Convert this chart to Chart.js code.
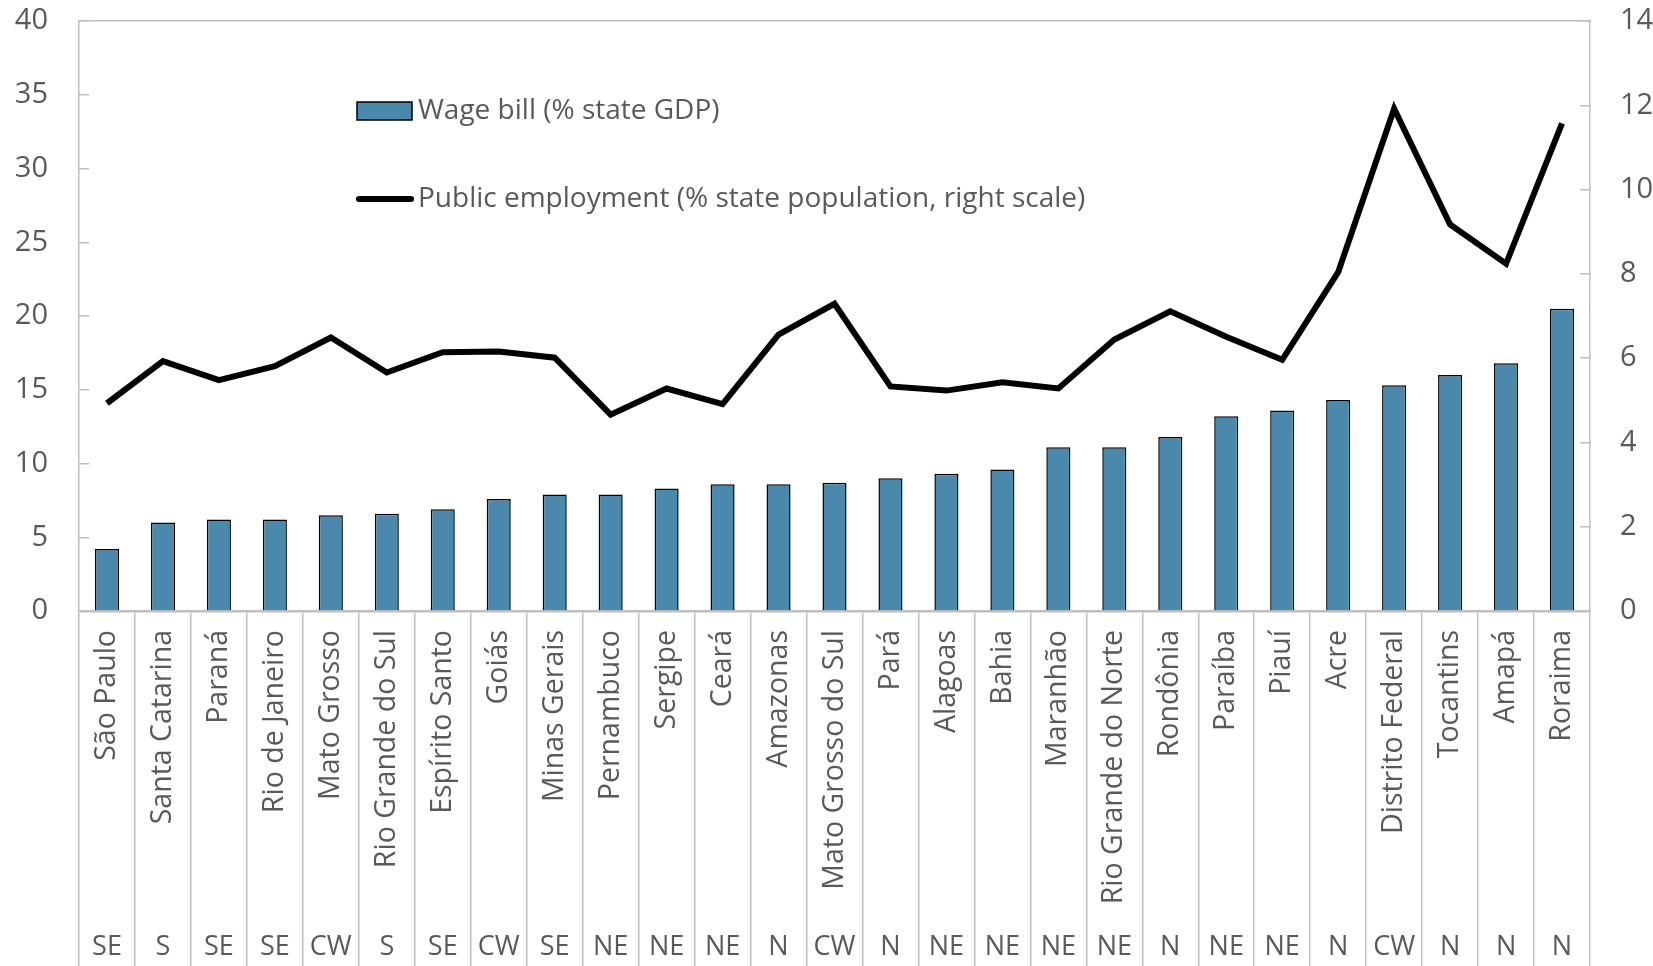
<!DOCTYPE html>
<html>
<head>
<meta charset="utf-8">
<script src="https://cdn.jsdelivr.net/npm/chart.js@4/dist/chart.umd.min.js"></script>
<style>
  html, body { margin: 0; padding: 0; background: #fff; }
  #wrap { width: 1653px; height: 966px; position: relative; }
</style>
</head>
<body>
<div id="wrap"><canvas id="chart"></canvas></div>
<script>
const states = ['São Paulo', 'Santa Catarina', 'Paraná', 'Rio de Janeiro', 'Mato Grosso',
  'Rio Grande do Sul', 'Espírito Santo', 'Goiás', 'Minas Gerais', 'Pernambuco', 'Sergipe',
  'Ceará', 'Amazonas', 'Mato Grosso do Sul', 'Pará', 'Alagoas', 'Bahia', 'Maranhão',
  'Rio Grande do Norte', 'Rondônia', 'Paraíba', 'Piauí', 'Acre', 'Distrito Federal',
  'Tocantins', 'Amapá', 'Roraima'];
const regions = ['SE', 'S', 'SE', 'SE', 'CW', 'S', 'SE', 'CW', 'SE', 'NE', 'NE', 'NE', 'N', 'CW',
  'N', 'NE', 'NE', 'NE', 'NE', 'N', 'NE', 'NE', 'N', 'CW', 'N', 'N', 'N'];
const wageBill = [4.2, 6.0, 6.2, 6.2, 6.5, 6.6, 6.9, 7.6, 7.9, 7.9, 8.3, 8.6, 8.6, 8.7, 9.0,
  9.3, 9.6, 11.1, 11.1, 11.8, 13.2, 13.6, 14.3, 15.3, 16.0, 16.8, 20.5];
const publicEmployment = [4.93, 5.93, 5.48, 5.81, 6.49, 5.66, 6.14, 6.16, 6.01, 4.66, 5.28,
  4.91, 6.56, 7.29, 5.33, 5.23, 5.43, 5.28, 6.44, 7.11, 6.51, 5.96, 8.04, 11.92, 9.17, 8.24, 11.57];
const leftTicks = [0, 5, 10, 15, 20, 25, 30, 35, 40];
const rightTicks = [0, 2, 4, 6, 8, 10, 12, 14];

const FONT = "'Open Sans', 'Noto Sans', sans-serif";
const TEXT = '#595959';
const AXIS = '#bfbfbf';
const BAR = '#4a89ac';

// no extra padding for tick labels sticking out of the scales
function noPad(s) {
  s.paddingTop = 0; s.paddingBottom = 0; s.paddingLeft = 0; s.paddingRight = 0;
}

// legend and region labels drawn on the canvas
const extras = {
  id: 'extras',
  afterDraw(chart) {
    const ctx = chart.ctx;
    const area = chart.chartArea;
    const x = chart.scales.x;
    ctx.save();
    ctx.fillStyle = TEXT;
    ctx.font = '27px ' + FONT;
    ctx.textAlign = 'center';
    ctx.textBaseline = 'middle';
    regions.forEach((r, i) => {
      ctx.fillText(r, x.getPixelForValue(i), x.bottom - 19);
    });

    const lx = area.left + 278;
    const ly = area.top + 90;
    const bar = chart.data.datasets[0];
    const line = chart.data.datasets[1];
    ctx.fillStyle = bar.backgroundColor;
    ctx.fillRect(lx, ly - 9, 55, 18);
    ctx.lineWidth = 1.5;
    ctx.strokeStyle = '#000';
    ctx.strokeRect(lx, ly - 9, 55, 18);
    ctx.beginPath();
    ctx.lineCap = 'round';
    ctx.lineWidth = 6;
    ctx.moveTo(lx + 2, ly + 88);
    ctx.lineTo(lx + 54, ly + 88);
    ctx.stroke();
    ctx.fillStyle = TEXT;
    ctx.font = '28px ' + FONT;
    ctx.textAlign = 'left';
    ctx.fillText(bar.label, lx + 61, ly);
    ctx.fillText(line.label, lx + 61, ly + 88);
    ctx.restore();
  }
};

new Chart(document.getElementById('chart'), {
  data: {
    labels: states,
    datasets: [{
      type: 'bar',
      label: 'Wage bill (% state GDP)',
      data: wageBill,
      backgroundColor: BAR,
      borderColor: '#000',
      borderWidth: 1.5,
      barPercentage: 0.43,
      categoryPercentage: 1,
      yAxisID: 'y',
      order: 1
    }, {
      type: 'line',
      label: 'Public employment (% state population, right scale)',
      data: publicEmployment,
      borderColor: '#000',
      borderWidth: 6,
      pointRadius: 0,
      tension: 0,
      yAxisID: 'y2',
      order: 0
    }]
  },
  options: {
    responsive: true,
    maintainAspectRatio: false,
    animation: false,
    layout: { padding: { top: 21, left: 0, right: 0, bottom: 0 } },
    plugins: { legend: { display: false }, tooltip: { enabled: false } },
    scales: {
      x: {
        type: 'category',
        position: 'bottom',
        offset: true,
        grid: { offset: true, drawOnChartArea: false, tickLength: 355, color: AXIS, lineWidth: 1.5 },
        border: { color: AXIS, width: 2.5 },
        ticks: {
          autoSkip: false, minRotation: 90, maxRotation: 90, padding: -336,
          color: TEXT, font: { family: FONT, size: 28.5 }
        },
        afterFit(s) { s.height = 355; noPad(s); }
      },
      xTop: {
        type: 'category',
        position: 'top',
        labels: states,
        grid: { display: false, drawTicks: false },
        border: { color: AXIS, width: 1.5 },
        ticks: { display: false },
        afterFit(s) { s.height = 0; noPad(s); }
      },
      y: {
        position: 'left',
        min: 0, max: 40,
        afterBuildTicks(s) { s.ticks = leftTicks.map(v => ({ value: v })); },
        grid: { drawOnChartArea: false, tickLength: -10, color: AXIS, lineWidth: 1.5 },
        border: { color: AXIS, width: 1.5 },
        ticks: { padding: 41, color: TEXT, font: { family: FONT, size: 29 } },
        afterFit(s) { s.width = 79; noPad(s); }
      },
      y2: {
        position: 'right',
        min: 0, max: 14,
        afterBuildTicks(s) { s.ticks = rightTicks.map(v => ({ value: v })); },
        grid: { drawOnChartArea: false, tickLength: -10, color: AXIS, lineWidth: 1.5 },
        border: { color: AXIS, width: 1.5 },
        ticks: { padding: 40, color: TEXT, font: { family: FONT, size: 29 } },
        afterFit(s) { s.width = 63; noPad(s); }
      }
    }
  },
  plugins: [extras]
});
</script>
</body>
</html>
